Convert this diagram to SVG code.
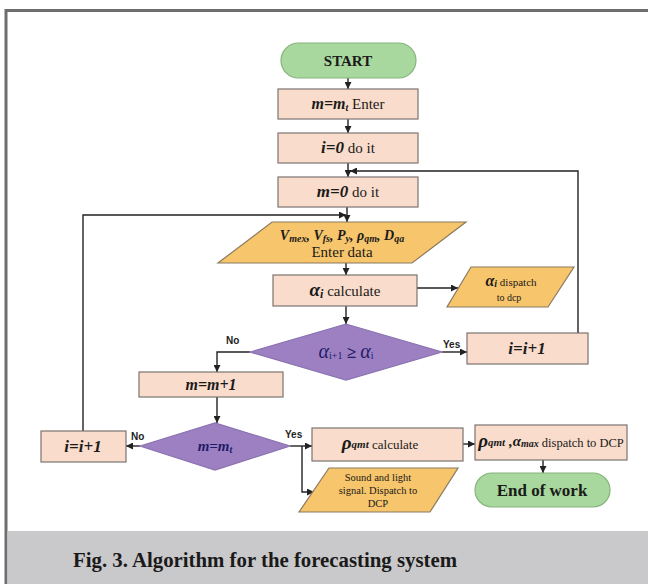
<svg xmlns="http://www.w3.org/2000/svg" width="648" height="584" viewBox="0 0 648 584">
  <defs>
    <marker id="arr" viewBox="0 0 10 10" refX="10" refY="5" markerWidth="7" markerHeight="7" markerUnits="userSpaceOnUse" orient="auto">
      <path d="M0,0 L10,5 L0,10 z" fill="#222"/>
    </marker>
    <style>
      .box { fill: #f9dccb; stroke: #7a7470; stroke-width: 1.2; }
      .io { fill: #f7c56b; stroke: #8a7a60; stroke-width: 1.2; }
      .dec { fill: #9d80c2; stroke: #8a72b0; stroke-width: 1.2; }
      .term { fill: #a8d89d; stroke: #86b47c; stroke-width: 1.2; }
      .ln { fill: none; stroke: #222; stroke-width: 1.4; }
      .t { font-family: "Liberation Serif", "DejaVu Serif", serif; fill: #1a1a1a; text-anchor: middle; }
      .m { font-weight: bold; font-style: italic; }
      .lbl { font-family: "Liberation Sans", Arial, sans-serif; font-size: 10px; font-weight: bold; fill: #222; }
      .t.dm { fill: #1f1b66; }
    </style>
  </defs>

  <!-- page frame -->
  <rect x="0" y="0" width="648" height="584" fill="#ffffff"/>
  <path d="M6,584 L6,10.5 L648,10.5" fill="none" stroke="#6e6e6e" stroke-width="3"/>
  <rect x="7.5" y="531" width="641" height="53" fill="#c9c9cb"/>
  <text x="265" y="567" class="t" font-size="20" font-weight="bold" textLength="384" lengthAdjust="spacingAndGlyphs">Fig. 3. Algorithm for the forecasting system</text>

  <!-- connectors -->
  <g id="connectors">
    <path class="ln" d="M348,78 L348,89" marker-end="url(#arr)"/>
    <path class="ln" d="M348,119 L348,133" marker-end="url(#arr)"/>
    <path class="ln" d="M348,163 L348,177" marker-end="url(#arr)"/>
    <path class="ln" d="M347,207 L347,222" marker-end="url(#arr)"/>
    <path class="ln" d="M346,263 L346,275" marker-end="url(#arr)"/>
    <path class="ln" d="M417,288 L458,288" marker-end="url(#arr)"/>
    <path class="ln" d="M346,306 L346,324" marker-end="url(#arr)"/>
    <path class="ln" d="M442,352 L467,352" marker-end="url(#arr)"/>
    <path class="ln" d="M250,352 L217,352 L217,372" marker-end="url(#arr)"/>
    <path class="ln" d="M578,333 L578,171 L350,171" marker-end="url(#arr)"/>
    <path class="ln" d="M217,397 L217,423" marker-end="url(#arr)"/>
    <path class="ln" d="M140,446 L126,446" marker-end="url(#arr)"/>
    <path class="ln" d="M83,431 L83,215 L346,215" marker-end="url(#arr)"/>
    <path class="ln" d="M290,446 L312,446" marker-end="url(#arr)"/>
    <path class="ln" d="M302,446 L302,492 L314,492" marker-end="url(#arr)"/>
    <path class="ln" d="M463,444 L475,444" marker-end="url(#arr)"/>
    <path class="ln" d="M543,460 L543,473" marker-end="url(#arr)"/>
    <text class="lbl" x="226" y="344">No</text>
    <text class="lbl" x="443" y="348">Yes</text>
    <text class="lbl" x="131" y="440">No</text>
    <text class="lbl" x="285" y="438">Yes</text>
  </g>

  <g id="start">
    <rect class="term" x="281" y="43" width="135" height="35" rx="17.5"/>
    <text class="t" x="348" y="66" font-size="15" font-weight="bold">START</text>
  </g>

  <g id="set-m">
    <rect class="box" x="278" y="89" width="140" height="30"/>
    <text class="t" x="348" y="109" font-size="15"><tspan class="m" font-size="16">m=m</tspan><tspan class="m" font-size="10" dy="2">t</tspan><tspan dy="-2"> Enter</tspan></text>
  </g>

  <g id="set-i">
    <rect class="box" x="278" y="133" width="140" height="30"/>
    <text class="t" x="348" y="153" font-size="15"><tspan class="m" font-size="17">i=0</tspan> do it</text>
  </g>

  <g id="reset-m">
    <rect class="box" x="278" y="177" width="140" height="30"/>
    <text class="t" x="348" y="197" font-size="15"><tspan class="m" font-size="17">m=0</tspan> do it</text>
  </g>

  <g id="enter-data">
    <polygon class="io" points="272,222 466,222 412,263 218,263"/>
    <text class="t" x="342" y="240" font-size="14"><tspan class="m">V</tspan><tspan class="m" font-size="10" dy="2">mex</tspan><tspan class="m" dy="-2">, V</tspan><tspan class="m" font-size="10" dy="2">fs</tspan><tspan class="m" dy="-2">, P</tspan><tspan class="m" font-size="10" dy="2">y</tspan><tspan class="m" dy="-2">, ρ</tspan><tspan class="m" font-size="10" dy="2">qm</tspan><tspan class="m" dy="-2">, D</tspan><tspan class="m" font-size="10" dy="2">qa</tspan></text>
    <text class="t" x="342" y="257" font-size="15">Enter data</text>
  </g>

  <g id="calc-alpha">
    <rect class="box" x="273" y="275" width="144" height="31"/>
    <text class="t" x="345" y="296" font-size="15"><tspan class="m" font-size="19">α</tspan><tspan class="m" font-size="12" dy="2">i</tspan><tspan dy="-2"> calculate</tspan></text>
  </g>

  <g id="alpha-out">
    <polygon class="io" points="471,267 574,267 548,307 447,307"/>
    <text class="t" x="511" y="286" font-size="11"><tspan class="m" font-size="16">α</tspan><tspan class="m" font-size="10" dy="1">i</tspan><tspan dy="-1"> dispatch</tspan></text>
    <text class="t" x="509" y="301" font-size="10">to dcp</text>
  </g>

  <g id="test-alpha">
    <polygon class="dec" points="250,352 346,324 442,352 346,380"/>
    <text class="t dm" x="346" y="358" font-size="17"><tspan font-style="italic" font-size="20">α</tspan><tspan font-size="10" dy="1">i+1</tspan><tspan dy="-1" font-weight="bold"> ≥ </tspan><tspan font-style="italic" font-size="20">α</tspan><tspan font-size="10" dy="1">i</tspan></text>
  </g>

  <g id="inc-i-right">
    <rect class="box" x="467" y="333" width="121" height="31"/>
    <text class="t m" x="527" y="354" font-size="17">i=i+1</text>
  </g>

  <g id="inc-m">
    <rect class="box" x="139" y="372" width="144" height="25"/>
    <text class="t m" x="211" y="390" font-size="16">m=m+1</text>
  </g>

  <g id="test-m">
    <polygon class="dec" points="140,446 215,423 290,446 215,470"/>
    <text class="t dm" x="215" y="451" font-size="15"><tspan font-style="italic" font-weight="bold">m=m</tspan><tspan font-style="italic" font-weight="bold" font-size="10" dy="2">t</tspan></text>
  </g>

  <g id="inc-i-left">
    <rect class="box" x="41" y="431" width="85" height="31"/>
    <text class="t m" x="83" y="452" font-size="17">i=i+1</text>
  </g>

  <g id="calc-rho">
    <rect class="box" x="312" y="428" width="151" height="33"/>
    <text class="t" x="380" y="449" font-size="13"><tspan class="m" font-size="19">ρ</tspan><tspan class="m" font-size="11" dy="-1">qmt</tspan><tspan dy="1"> calculate</tspan></text>
  </g>

  <g id="rho-out">
    <rect class="box" x="475" y="425" width="152" height="35"/>
    <text class="t" x="551" y="447" font-size="12.5"><tspan class="m" font-size="19">ρ</tspan><tspan class="m" font-size="11" dy="-1">qmt</tspan><tspan class="m" font-size="15"> ,α</tspan><tspan class="m" font-size="10" dy="1">max</tspan><tspan dy="0"> dispatch to DCP</tspan></text>
  </g>

  <g id="signal-out">
    <polygon class="io" points="329,468 458,468 430,512 299,512"/>
    <text class="t" x="378" y="481" font-size="10.5">Sound and light</text>
    <text class="t" x="378" y="494" font-size="10.5">signal. Dispatch to</text>
    <text class="t" x="378" y="507" font-size="10.5">DCP</text>
  </g>

  <g id="end">
    <rect class="term" x="475" y="473" width="135" height="34" rx="17"/>
    <text class="t" x="542" y="496" font-size="17" font-weight="bold">End of work</text>
  </g>
</svg>
